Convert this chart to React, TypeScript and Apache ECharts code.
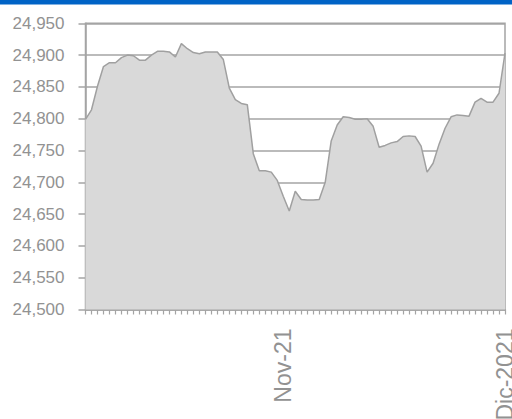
import React, { useEffect, useRef } from "react";
import * as echarts from "echarts";

// Daily values
const values = [
  24799, 24814, 24851, 24882, 24888, 24888, 24896, 24900, 24899, 24892,
  24892, 24900, 24906, 24906, 24905, 24897, 24918, 24910, 24904, 24902,
  24905, 24905, 24905, 24893, 24848, 24830, 24824, 24822, 24745, 24718,
  24718, 24716, 24703, 24678, 24655, 24686, 24673, 24672, 24672, 24673,
  24700, 24765, 24790, 24803, 24802, 24799, 24799, 24800, 24788, 24755,
  24758, 24762, 24764, 24772, 24773, 24772, 24757, 24716, 24730, 24760,
  24785, 24803, 24806, 24805, 24804, 24826, 24832, 24826, 24826, 24840,
  24903,
];

// Tick labels shown on the category axis (index -> text)
const labelIndices = [33, 70];
const labelTexts = ["Nov-21", "Dic-2021"];

const categories = values.map((_, i) => {
  const k = labelIndices.indexOf(i);
  return k >= 0 ? labelTexts[k] : "d" + i;
});

const yMin = 24500;
const yMax = 24950;
const yStep = 50;

export default function App() {
  const ref = useRef<HTMLDivElement>(null);
  useEffect(() => {
    if (!ref.current) return;
    const chart = echarts.init(ref.current, undefined, { renderer: "svg" });
    const gray = "#a4a4a4";
    const textGray = "#929292";
    chart.setOption({
      animation: false,
      backgroundColor: "#ffffff",
      graphic: [
        {
          type: "rect",
          left: 0,
          top: 0,
          shape: { width: 512, height: 4.5 },
          style: { fill: "#0063c6" },
        },
      ],
      grid: {
        left: 85.5,
        right: 7,
        top: 23.3,
        bottom: 109.5,
        show: true,
        borderColor: gray,
        borderWidth: 1.5,
        containLabel: false,
        outerBoundsMode: "none",
      },
      xAxis: {
        type: "category",
        data: categories,
        boundaryGap: false,
        axisLine: { show: true, lineStyle: { color: gray, width: 1.5 } },
        axisTick: {
          show: true,
          interval: 0,
          length: 5,
          lineStyle: { color: gray, width: 1.2 },
        },
        axisLabel: {
          interval: (index: number) => labelIndices.indexOf(index) >= 0,
          formatter: (v: string) => (labelTexts.indexOf(v) >= 0 ? v : ""),
          rotate: 90,
          margin: 19,
          color: textGray,
          fontSize: 23,
          fontFamily: "Liberation Sans, Arial, sans-serif",
          showMaxLabel: true,
          hideOverlap: false,
        },
        splitLine: { show: false },
      },
      yAxis: {
        type: "value",
        min: yMin,
        max: yMax,
        interval: yStep,
        axisLine: { show: true, lineStyle: { color: gray, width: 1.5 } },
        axisTick: { show: true, length: 7, lineStyle: { color: gray, width: 1.5 } },
        axisLabel: {
          margin: 21,
          color: textGray,
          fontSize: 17,
          fontFamily: "Liberation Sans, Arial, sans-serif",
          formatter: (v: number) => v.toLocaleString("en-US"),
        },
        splitLine: { show: true, lineStyle: { color: gray, width: 1.5 } },
      },
      series: [
        {
          type: "line",
          data: values,
          symbol: "none",
          lineStyle: { color: "#a0a0a0", width: 1.5 },
          areaStyle: { color: "#d9d9d9", opacity: 1, origin: "start" },
          z: 3,
        },
      ],
    });
    return () => chart.dispose();
  }, []);
  return (
    <div
      ref={ref}
      style={{ position: "fixed", left: 0, top: 0, width: 512, height: 419 }}
    />
  );
}
